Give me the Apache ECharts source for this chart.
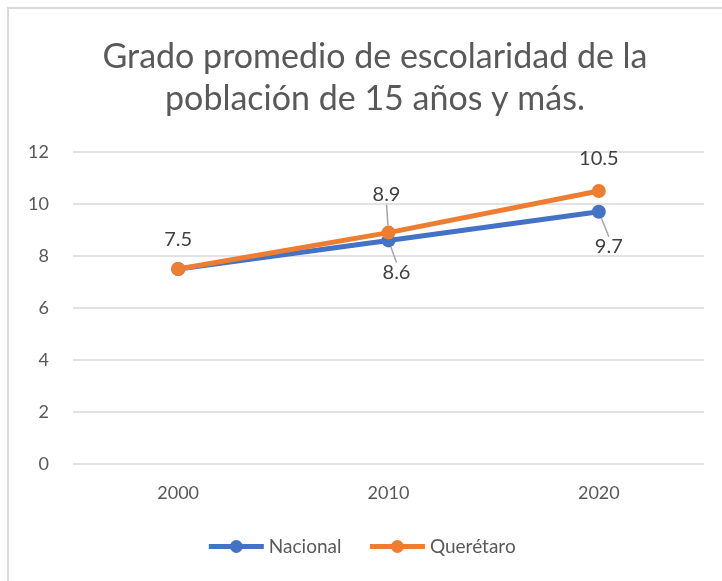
<!DOCTYPE html>
<html>
<head>
<meta charset="utf-8">
<script src="https://cdn.jsdelivr.net/npm/echarts@6/dist/echarts.min.js"></script>
<style>
  html, body { margin: 0; padding: 0; background: #fff; }
  #frame { position: absolute; left: 7px; top: 7px; width: 800px; height: 700px; border: 2px solid #d9d9d9; box-sizing: border-box; }
  #main { position: absolute; left: 0; top: 0; width: 722px; height: 581px; }
</style>
</head>
<body>
<div id="frame"></div>
<div id="main"></div>
<script>
// datos
var years = ['2000', '2010', '2020'];
var nacional = [7.5, 8.6, 9.7];
var queretaro = [7.5, 8.9, 10.5];
var yTicks = [0, 2, 4, 6, 8, 10, 12];

var chart = echarts.init(document.getElementById('main'));

// desplazamiento de etiquetas [dx, dy] y si llevan línea guía
var nacOffsets = [[0, 0, false], [8, 10, true], [10, 13, true]];
var queOffsets = [[0, -7, false], [-2, -16, true], [0, -10, false]];

var font = 'Lato, "Open Sans", sans-serif';

var option = {
	color: ['#4472C4', '#ED7D31'],
	title: {
		text: 'Grado promedio de escolaridad de la\npoblación de 15 años y más.',
		left: 370,
		top: 31,
		textAlign: 'center',
		textStyle: {
			color: '#595959',
			fontFamily: font,
			fontWeight: 'normal',
			fontSize: 34,
			lineHeight: 42
		}
	},
	legend: {
		bottom: 20,
		left: 'center',
		itemWidth: 55,
		itemHeight: 16,
		itemGap: 26,
		lineStyle: { width: 5 },
		textStyle: { color: '#595959', fontSize: 19, fontFamily: font },
		data: ['Nacional', 'Querétaro']
	},
	grid: { left: 73, right: 18, top: 152, bottom: 117 },
	xAxis: {
		type: 'category',
		data: years,
		axisTick: { show: false },
		axisLine: { show: false },
		axisLabel: { color: '#595959', fontSize: 18, fontFamily: font, margin: 20 }
	},
	yAxis: {
		type: 'value',
		min: yTicks[0],
		max: yTicks[yTicks.length - 1],
		interval: 2,
		axisLine: { show: false },
		axisTick: { show: false },
		axisLabel: { color: '#595959', fontSize: 18, fontFamily: font, margin: 24 },
		splitLine: { lineStyle: { color: '#d9d9d9', width: 1.5 } }
	},
	series: [{
		name: 'Nacional',
		type: 'line',
		data: nacional.map(function (v, i) {
			return { value: v, label: { show: i > 0 }, labelLine: { show: nacOffsets[i][2] } };
		}),
		symbol: 'circle',
		symbolSize: 14,
		lineStyle: { width: 5 },
		label: { position: 'bottom', color: '#404040', fontSize: 20, fontFamily: font },
		labelLine: { lineStyle: { color: '#a6a6a6', width: 1.5 } },
		labelLayout: function (p) {
			var o = nacOffsets[p.dataIndex];
			return { dx: o[0], dy: o[1] };
		},
		z: 2
	}, {
		name: 'Querétaro',
		type: 'line',
		data: queretaro.map(function (v, i) {
			return { value: v, labelLine: { show: queOffsets[i][2] } };
		}),
		symbol: 'circle',
		symbolSize: 14,
		lineStyle: { width: 5 },
		label: { show: true, position: 'top', color: '#404040', fontSize: 20, fontFamily: font },
		labelLine: { lineStyle: { color: '#a6a6a6', width: 1.5 } },
		labelLayout: function (p) {
			var o = queOffsets[p.dataIndex];
			return { dx: o[0], dy: o[1] };
		},
		z: 3
	}]
};

chart.setOption(option);
</script>
</body>
</html>
